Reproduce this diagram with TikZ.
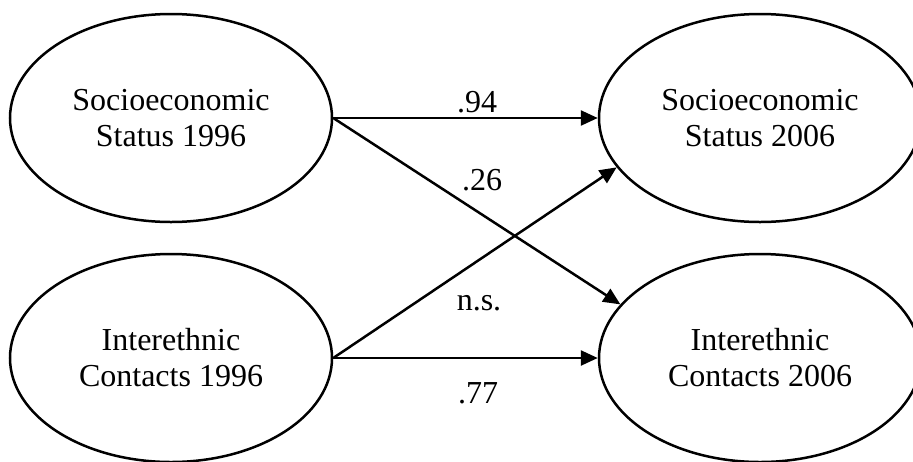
\documentclass[tikz,border=0pt]{standalone}
\usepackage{fontspec}
\setmainfont{Liberation Serif}
\usetikzlibrary{shapes.geometric,arrows.meta}
\begin{document}
\begin{tikzpicture}[x=0.5pt,y=-0.5pt,
  latent/.style={ellipse,draw,line width=1.25pt,minimum width=161pt,minimum height=104pt,
    inner sep=0pt,align=center,font=\fontsize{16pt}{18pt}\selectfont},
  path/.style={line width=1.25pt,-{Triangle[length=8.5pt,width=7.5pt]}},
  coef/.style={anchor=base,inner sep=0pt,font=\fontsize{16pt}{18pt}\selectfont}]
\useasboundingbox (0,0) rectangle (913,461);
% latent variables, 1996 on the left, 2006 on the right
\node[latent] (ses96) at (171,118) {Socioeconomic\\Status 1996};
\node[latent] (iec96) at (171,358) {Interethnic\\Contacts 1996};
\node[latent] (ses06) at (760,118) {Socioeconomic\\Status 2006};
\node[latent] (iec06) at (760,358) {Interethnic\\Contacts 2006};
% structural paths
\draw[path] (ses96.east) -- (ses06.west);
\draw[path] (ses96.east) -- (iec06.159);
\draw[path] (iec96.east) -- (ses06.199);
\draw[path] (iec96.east) -- (iec06.west);
% path coefficients
\node[coef] (c1) at (477,112) {.94};
\node[coef] (c2) at (482,190) {.26};
\node[coef] (c3) at (479,310) {n.s.};
\node[coef] (c4) at (478,403) {.77};
\end{tikzpicture}
\end{document}
